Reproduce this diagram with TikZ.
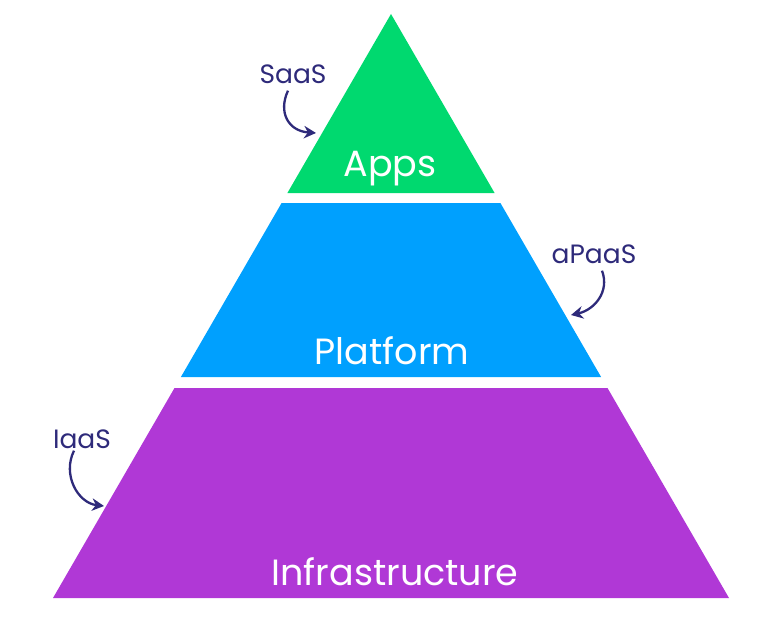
\documentclass[tikz,border=0pt]{standalone}
\usepackage{fontspec}
\setmainfont{Poppins}
\usetikzlibrary{arrows.meta}
\definecolor{appsgreen}{HTML}{00D96F}
\definecolor{platblue}{HTML}{00A0FE}
\definecolor{infrapurple}{HTML}{B038D6}
\definecolor{arrowink}{HTML}{2E2A7A}
\tikzset{
  bigtext/.style={text=white, font=\fontsize{36.5}{40}\selectfont, inner sep=0pt, anchor=base},
  tag/.style={text=arrowink, font=\fontsize{26.5}{30}\selectfont, inner sep=0pt},
  pointer/.style={draw=arrowink, line width=2.3pt, -{Stealth[length=12pt,width=12.5pt]}}
}
\begin{document}
\begin{tikzpicture}[x=1pt,y=-1pt]
\useasboundingbox (0,0) rectangle (768,618);
% layers
\fill[appsgreen] (391,14) -- (494.6,193) -- (287.4,193) -- cycle;
\fill[platblue] (281.6,203) -- (500.4,203) -- (601.1,377) -- (180.9,377) -- cycle;
\fill[infrapurple] (174.5,388) -- (607.5,388) -- (729,598) -- (53,598) -- cycle;
% layer titles
\node[bigtext] (apps) at (390,176) {Apps};
\node[bigtext] (platform) at (392,364) {Platform};
\node[bigtext] (infra) at (395,585) {Infrastructure};
% tags
\node[tag] (saas) at (293,74) {SaaS};
\node[tag] (apaas) at (594,254) {aPaaS};
\node[tag] (iaas) at (82,439) {IaaS};
\coordinate (saasend) at (316,133);
\coordinate (apaasend) at (571,315);
\coordinate (iaasend) at (104,506);
\draw[pointer] ([shift={(-5,7)}]saas.south) .. controls (278,112) and (288,131) .. (saasend);
\draw[pointer] ([shift={(8,7)}]apaas.south) .. controls (610,292) and (594,310) .. (apaasend);
\draw[pointer] ([shift={(-8,2)}]iaas.south) .. controls (62,475) and (78,503) .. (iaasend);
\end{tikzpicture}
\end{document}
